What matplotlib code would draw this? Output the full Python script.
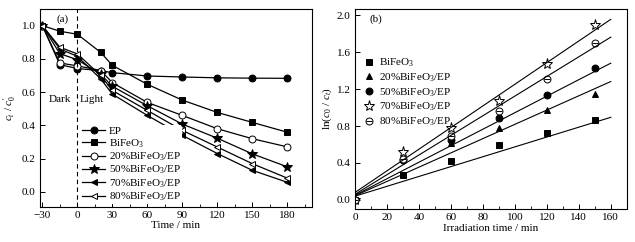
import numpy as np
import matplotlib
matplotlib.use("Agg")
import matplotlib.pyplot as plt
from matplotlib.ticker import MultipleLocator, FormatStrFormatter

plt.rcParams['font.family'] = ['Liberation Serif', 'DejaVu Serif']
plt.rcParams['font.size'] = 8
plt.rcParams['mathtext.fontset'] = 'custom'
plt.rcParams['mathtext.rm'] = 'Liberation Serif'
plt.rcParams['mathtext.it'] = 'Liberation Serif:italic'

# panel (a): c_t / c_0' versus time
time_a = [-30, -15, 0, 20, 30, 60, 90, 120, 150, 180]
ep = [1.0, 0.765, 0.742, 0.729, 0.717, 0.697, 0.691, 0.686, 0.684, 0.683]
bfo = [1.0, 0.966, 0.948, 0.839, 0.761, 0.647, 0.552, 0.478, 0.418, 0.359]
bfo20 = [1.0, 0.775, 0.758, 0.730, 0.657, 0.538, 0.460, 0.380, 0.320, 0.271]
bfo50 = [1.0, 0.831, 0.795, 0.707, 0.635, 0.518, 0.408, 0.323, 0.229, 0.151]
bfo70 = [1.0, 0.860, 0.815, 0.680, 0.588, 0.460, 0.340, 0.231, 0.130, 0.058]
bfo80 = [1.0, 0.870, 0.830, 0.700, 0.610, 0.490, 0.370, 0.270, 0.170, 0.083]
labels_a = ["EP", "BiFeO$_3$", "20%BiFeO$_3$/EP", "50%BiFeO$_3$/EP",
            "70%BiFeO$_3$/EP", "80%BiFeO$_3$/EP"]

# panel (b): ln(c_0/c_t) versus irradiation time, with linear fits
time_b = [0, 30, 60, 90, 120, 150]
k_bfo = [0.0, 0.275, 0.424, 0.594, 0.728, 0.862]
k_bfo20 = [0.0, 0.44, 0.616, 0.783, 0.978, 1.145]
k_bfo50 = [0.0, 0.43, 0.648, 0.888, 1.138, 1.431]
k_bfo70 = [0.0, 0.522, 0.775, 1.076, 1.475, 1.899]
k_bfo80 = [0.0, 0.44, 0.696, 0.967, 1.308, 1.699]
fit_start = [0.04, 0.045, 0.05, 0.08, 0.06]   # value at t = 0
fit_end = [0.895, 1.283, 1.482, 1.957, 1.764]  # value at t = 160
labels_b = ["BiFeO$_3$", "20%BiFeO$_3$/EP", "50%BiFeO$_3$/EP",
            "70%BiFeO$_3$/EP", "80%BiFeO$_3$/EP"]

fig = plt.figure(figsize=(6.35, 2.42), dpi=100)
ax1 = fig.add_axes([0.063, 0.145, 0.428, 0.818])
ax2 = fig.add_axes([0.559, 0.136, 0.428, 0.827])

ms = 5
styles_a = [
    dict(marker='o', mfc='k'),
    dict(marker='s', mfc='k'),
    dict(marker='o', mfc='white'),
    dict(marker='*', mfc='k', ms=ms + 2),
    dict(marker='<', mfc='k'),
    dict(marker='<', mfc='white'),
]
series_a = [ep, bfo, bfo20, bfo50, bfo70, bfo80]
for ys, st, lab in zip(series_a, styles_a, labels_a):
    kw = dict(color='k', lw=0.9, mec='k', mew=0.7, ms=ms)
    kw.update(st)
    ax1.plot(time_a, ys, label=lab, **kw)

ax1.axvline(0, color='k', ls='--', lw=0.8, dashes=(4, 3))
ax1.text(-15, 0.556, "Dark", ha='center', va='center')
ax1.text(12, 0.556, "Light", ha='center', va='center')
ax1.text(-12.5, 1.036, "(a)", ha='center', va='center')
ax1.set_xlim(-32, 201)
ax1.set_ylim(-0.09, 1.1)
ax1.xaxis.set_minor_locator(MultipleLocator(15))
ax1.yaxis.set_major_locator(MultipleLocator(0.2))
ax1.set_xticks([-30, 0, 30, 60, 90, 120, 150, 180])
ax1.set_xticklabels(["\u221230", "0", "30", "60", "90", "120", "150", "180"])
ax1.set_xlabel("Time / min", labelpad=1)
ax1.set_ylabel(r"$c_t\ /\ c_0'$", labelpad=2)
leg1 = ax1.legend(loc='upper left', bbox_to_anchor=(0.152, 0.412),
                  borderaxespad=0, frameon=True, framealpha=1,
                  edgecolor='none', handlelength=2.0, handletextpad=0.4,
                  labelspacing=0.08, borderpad=0.1)
leg1.get_frame().set_linewidth(0)

# panel (b)
styles_b = [
    dict(marker='s', mfc='k'),
    dict(marker='^', mfc='k'),
    dict(marker='o', mfc='k'),
    dict(marker='*', mfc='white', ms=ms + 3),
    dict(marker='o', mfc='white'),
]
series_b = [k_bfo, k_bfo20, k_bfo50, k_bfo70, k_bfo80]
handles = []
for ys, st in zip(series_b, styles_b):
    kw = dict(color='k', ls='none', mec='k', mew=0.7, ms=ms)
    kw.update(st)
    h, = ax2.plot(time_b, ys, **kw)
    handles.append(h)
# horizontal bar inside the open circles of the 80% series
bar, = ax2.plot(time_b, k_bfo80, ls='none', marker='_', ms=ms, mec='k', mew=0.7)
handles[-1] = (handles[-1], bar)

t_fit = np.array([0, 160])
for a, b in zip(fit_start, fit_end):
    ax2.plot(t_fit, [a, b], color='k', lw=0.8)

ax2.text(13.2, 1.96, "(b)", ha='center', va='center')
ax2.set_xlim(0, 170)
ax2.set_ylim(-0.1, 2.07)
ax2.xaxis.set_major_locator(MultipleLocator(20))
ax2.xaxis.set_minor_locator(MultipleLocator(10))
ax2.yaxis.set_major_locator(MultipleLocator(0.4))
ax2.set_xlabel("Irradiation time / min", labelpad=1)
ax2.set_ylabel(r"ln($c_0$ / $c_t$)", labelpad=2)
ax2.legend(handles, labels_b, loc='upper left', bbox_to_anchor=(0.01, 0.795),
           frameon=False, handlelength=0.9, handletextpad=0.4,
           labelspacing=0.2, borderpad=0.1)

for ax in (ax1, ax2):
    ax.tick_params(which='both', direction='in', top=False, right=False,
                   labelsize=8, pad=3)
    ax.tick_params(which='major', length=3.5, width=0.7)
    ax.tick_params(which='minor', length=2, width=0.6)
    ax.yaxis.set_major_formatter(FormatStrFormatter('%.1f'))
    for sp in ax.spines.values():
        sp.set_linewidth(0.8)

fig.savefig("out.png", dpi=100)
